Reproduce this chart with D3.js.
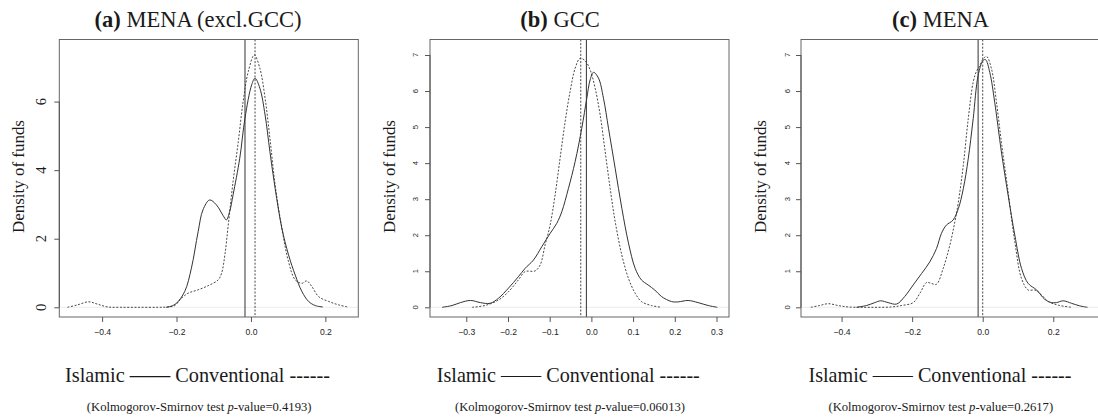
<!DOCTYPE html>
<html><head><meta charset="utf-8">
<script src="https://cdn.jsdelivr.net/npm/d3@7"></script>
<style>body{margin:0;background:#fff} svg{display:block}</style>
</head><body>
<svg id="chart" width="1098" height="417"></svg>
<script>
// ---------- DATA ----------
const panelLetters = ["(a)", "(b)", "(c)"];
const panelNames = ["MENA (excl.GCC)", "GCC", "MENA"];
const pValues = ["0.4193", "0.06013", "0.2617"];
const yAxisTitle = "Density of funds";
const legendText = "Islamic —— Conventional ------";

const xTicksA = [-0.4, -0.2, 0.0, 0.2];
const xTicksB = [-0.3, -0.2, -0.1, 0.0, 0.1, 0.2, 0.3];
const xTicksC = [-0.4, -0.2, 0.0, 0.2];
const yTicksA = [0, 2, 4, 6];
const yTicksB = [0, 1, 2, 3, 4, 5, 6, 7];
const yTicksC = [0, 1, 2, 3, 4, 5, 6, 7];

// vertical reference lines (means)
const meanIslamic = [-0.016, -0.012, -0.013];
const meanConventional = [0.011, -0.0255, 0.0];

// (a) MENA excl. GCC
const islamicA = [[-0.228,0],[-0.215,0.03],[-0.2,0.12],[-0.178,0.46],[-0.16,1.14],[-0.142,2.2],[-0.129,2.84],[-0.111,3.13],[-0.093,2.99],[-0.075,2.68],[-0.066,2.55],[-0.057,2.8],[-0.048,3.28],[-0.030,4.35],[-0.016,5.52],[0.002,6.49],[0.011,6.68],[0.024,6.39],[0.038,5.61],[0.051,4.54],[0.065,3.47],[0.083,2.31],[0.101,1.53],[0.119,0.94],[0.137,0.46],[0.155,0.17],[0.173,0.05],[0.193,0.01]];
const conventionalA = [[-0.493,0],[-0.466,0.07],[-0.436,0.16],[-0.412,0.09],[-0.385,0.01],[-0.35,0],[-0.3,0],[-0.25,0],[-0.223,0.01],[-0.205,0.05],[-0.187,0.26],[-0.169,0.41],[-0.142,0.51],[-0.115,0.63],[-0.088,0.80],[-0.079,0.99],[-0.070,1.53],[-0.061,2.40],[-0.048,3.67],[-0.034,4.83],[-0.021,6.0],[-0.007,6.88],[0.009,7.36],[0.024,6.97],[0.038,6.1],[0.051,4.93],[0.065,3.57],[0.083,2.31],[0.101,1.33],[0.119,0.80],[0.137,0.70],[0.150,0.77],[0.164,0.60],[0.182,0.31],[0.209,0.17],[0.236,0.07],[0.261,0.01]];

// (b) GCC
const islamicB = [[-0.358,0],[-0.334,0.05],[-0.314,0.13],[-0.290,0.19],[-0.266,0.13],[-0.243,0.11],[-0.223,0.25],[-0.199,0.53],[-0.175,0.85],[-0.159,1.08],[-0.139,1.31],[-0.119,1.68],[-0.099,2.05],[-0.083,2.33],[-0.071,2.65],[-0.055,3.30],[-0.039,4.04],[-0.023,4.97],[-0.011,5.80],[-0.003,6.31],[0.005,6.52],[0.017,6.36],[0.029,5.80],[0.041,4.97],[0.057,3.86],[0.073,2.75],[0.089,1.78],[0.105,1.08],[0.120,0.76],[0.136,0.62],[0.152,0.48],[0.168,0.30],[0.192,0.16],[0.208,0.15],[0.232,0.19],[0.256,0.13],[0.280,0.05],[0.302,0]];
const conventionalB = [[-0.286,0],[-0.255,0.05],[-0.223,0.2],[-0.199,0.43],[-0.175,0.76],[-0.159,0.99],[-0.135,1.01],[-0.123,1.17],[-0.111,1.73],[-0.099,2.28],[-0.087,3.12],[-0.075,4.14],[-0.063,5.15],[-0.051,5.99],[-0.039,6.63],[-0.027,6.91],[-0.015,6.84],[-0.003,6.59],[0.009,6.08],[0.021,5.34],[0.033,4.32],[0.045,3.30],[0.057,2.38],[0.073,1.45],[0.089,0.80],[0.105,0.39],[0.120,0.16],[0.144,0.05],[0.168,0]];

// (c) MENA
const islamicC = [[-0.358,0],[-0.329,0.05],[-0.306,0.13],[-0.289,0.18],[-0.268,0.13],[-0.244,0.09],[-0.221,0.30],[-0.197,0.62],[-0.173,0.94],[-0.150,1.26],[-0.131,1.63],[-0.117,2.05],[-0.103,2.28],[-0.084,2.42],[-0.069,2.74],[-0.055,3.29],[-0.041,4.12],[-0.027,5.23],[-0.013,6.43],[0.001,6.85],[0.008,6.87],[0.020,6.52],[0.034,5.69],[0.053,4.31],[0.072,3.11],[0.091,2.00],[0.110,1.08],[0.129,0.66],[0.153,0.48],[0.176,0.22],[0.195,0.13],[0.209,0.13],[0.228,0.18],[0.252,0.11],[0.275,0.04],[0.297,0]];
const conventionalC = [[-0.487,0],[-0.462,0.05],[-0.438,0.10],[-0.410,0.05],[-0.382,0.01],[-0.34,0],[-0.30,0],[-0.258,0.01],[-0.230,0.05],[-0.197,0.13],[-0.178,0.39],[-0.159,0.69],[-0.145,0.66],[-0.131,0.64],[-0.112,1.08],[-0.093,1.73],[-0.079,2.37],[-0.069,2.92],[-0.055,3.94],[-0.041,5.23],[-0.027,6.25],[-0.018,6.54],[-0.008,6.71],[0.001,6.89],[0.011,6.96],[0.025,6.61],[0.039,5.69],[0.053,4.58],[0.072,3.20],[0.091,1.82],[0.110,0.80],[0.129,0.48],[0.148,0.48],[0.167,0.34],[0.186,0.16],[0.214,0.06],[0.252,0]];

// ---------- LAYOUT ----------
const layouts = [
  {box:{l:59.3,r:358.3,t:39.5,b:317}, xd:[-0.515,0.2885], yd:[-0.283,7.81], xTicks:xTicksA, yTicks:yTicksA,
   bigY:true, yTickX:41, yTitleX:19, titleC:198, legC:197.5, legW:265, ksC:199.2, ksW:225,
   isl:islamicA, conv:conventionalA},
  {box:{l:430,r:729,t:39.5,b:317}, xd:[-0.387,0.330], yd:[-0.269,7.43], xTicks:xTicksB, yTicks:yTicksB,
   bigY:false, yTickX:415.5, yTitleX:389.5, titleC:560, legC:568.3, legW:263, ksC:570, ksW:230,
   isl:islamicB, conv:conventionalB},
  {box:{l:801,r:1099.5,t:39.5,b:317}, xd:[-0.515,0.331], yd:[-0.269,7.43], xTicks:xTicksC, yTicks:yTicksC,
   bigY:false, yTickX:787.5, yTitleX:761, titleC:940.5, legC:940, legW:263, ksC:940.8, ksW:225,
   isl:islamicC, conv:conventionalC}
];

const svg = d3.select("#chart");
const serif = "'Liberation Serif', 'DejaVu Serif', serif";
const sans = "'Liberation Sans', Arial, sans-serif";
const ink = "#1a1a1a";
const lineCol = "#333";

function fitWidth(sel, target) {
  const w = sel.node().getComputedTextLength();
  const fs = parseFloat(sel.attr("font-size"));
  sel.attr("font-size", (fs * target / w).toFixed(2));
  return fs * target / w;
}

// common title size, matched to the width of panel (a)'s title
function buildTitle(parent, i, cx, size) {
  const tt = parent.append("text").attr("x", cx).attr("y", 26.7).attr("text-anchor", "middle")
    .attr("font-family", serif).attr("font-size", size).attr("fill", ink);
  tt.append("tspan").attr("font-weight", "bold").text(panelLetters[i]);
  tt.append("tspan").text(" " + panelNames[i]);
  return tt;
}
const probe = buildTitle(svg, 0, 0, 18);
const titleSize = fitWidth(probe, 207);
probe.remove();

layouts.forEach((L, i) => {
  const g = svg.append("g");
  const x = d3.scaleLinear().domain(L.xd).range([L.box.l, L.box.r]);
  const y = d3.scaleLinear().domain(L.yd).range([L.box.b, L.box.t]);

  // faint zero line
  g.append("line").attr("x1", L.box.l).attr("x2", L.box.r)
    .attr("y1", y(0)).attr("y2", y(0)).attr("stroke", "#ececec").attr("stroke-width", 1);

  // curves
  const line = d3.line().x(d => x(d[0])).y(d => y(d[1])).curve(d3.curveCatmullRom.alpha(0.5));
  g.append("path").datum(L.isl).attr("d", line).attr("fill", "none")
    .attr("stroke", lineCol).attr("stroke-width", 1);
  g.append("path").datum(L.conv).attr("d", line).attr("fill", "none")
    .attr("stroke", lineCol).attr("stroke-width", 0.9).attr("stroke-dasharray", "2,1.6");

  // vertical mean lines
  g.append("line").attr("x1", x(meanIslamic[i])).attr("x2", x(meanIslamic[i]))
    .attr("y1", L.box.t).attr("y2", L.box.b).attr("stroke", lineCol).attr("stroke-width", 1);
  g.append("line").attr("x1", x(meanConventional[i])).attr("x2", x(meanConventional[i]))
    .attr("y1", L.box.t).attr("y2", L.box.b).attr("stroke", lineCol).attr("stroke-width", 0.9)
    .attr("stroke-dasharray", "2,1.6");

  // box
  g.append("rect").attr("x", L.box.l).attr("y", L.box.t)
    .attr("width", L.box.r - L.box.l).attr("height", L.box.b - L.box.t)
    .attr("fill", "none").attr("stroke", "#666").attr("stroke-width", 1);

  // x axis
  const xa = g.append("g").attr("transform", `translate(0,${L.box.b})`)
    .call(d3.axisBottom(x).tickValues(L.xTicks).tickFormat(d3.format(".1f")).tickSize(5).tickPadding(7));
  xa.select(".domain").remove();
  xa.selectAll(".tick line").attr("stroke", "#555");
  xa.selectAll("text").attr("font-family", sans).attr("font-size", 8.6).attr("fill", "#222");

  // y axis
  const ya = g.append("g").attr("transform", `translate(${L.box.l},0)`)
    .call(d3.axisLeft(y).tickValues(L.yTicks).tickFormat(d3.format("d")).tickSize(5));
  ya.select(".domain").remove();
  ya.selectAll(".tick line").attr("stroke", "#555");
  ya.selectAll(".tick text").remove();
  g.append("line").attr("x1", L.box.l).attr("x2", L.box.l)
    .attr("y1", y(L.yTicks[0])).attr("y2", y(L.yTicks[L.yTicks.length - 1])).attr("stroke", "#555");
  g.selectAll(".ytl").data(L.yTicks).enter().append("text").attr("class", "ytl")
    .attr("transform", d => `translate(${L.yTickX},${y(d)}) rotate(-90)`)
    .attr("text-anchor", "middle").attr("dy", "0.35em")
    .attr("font-family", L.bigY ? serif : sans).attr("font-size", L.bigY ? 14.5 : 7.6)
    .attr("fill", ink).text(d => d);

  // y title
  const yt = g.append("text").attr("transform", `translate(${L.yTitleX + 5},176.5) rotate(-90)`)
    .attr("text-anchor", "middle").attr("font-family", serif).attr("font-size", 16)
    .attr("fill", ink).text(yAxisTitle);
  fitWidth(yt, 113);

  // title
  buildTitle(g, i, L.titleC, titleSize);

  // legend text
  const lt = g.append("text").attr("x", L.legC).attr("y", 381.7).attr("text-anchor", "middle")
    .attr("font-family", serif).attr("font-size", 20).attr("fill", ink).text(legendText);
  fitWidth(lt, L.legW);

  // KS test
  const kt = g.append("text").attr("x", L.ksC).attr("y", 410.5).attr("text-anchor", "middle")
    .attr("font-family", serif).attr("font-size", 12.5).attr("fill", ink);
  kt.append("tspan").text("(Kolmogorov-Smirnov test ");
  kt.append("tspan").attr("font-style", "italic").text("p");
  kt.append("tspan").text("-value=" + pValues[i] + ")");
  fitWidth(kt, L.ksW);
});
</script>
</body></html>
